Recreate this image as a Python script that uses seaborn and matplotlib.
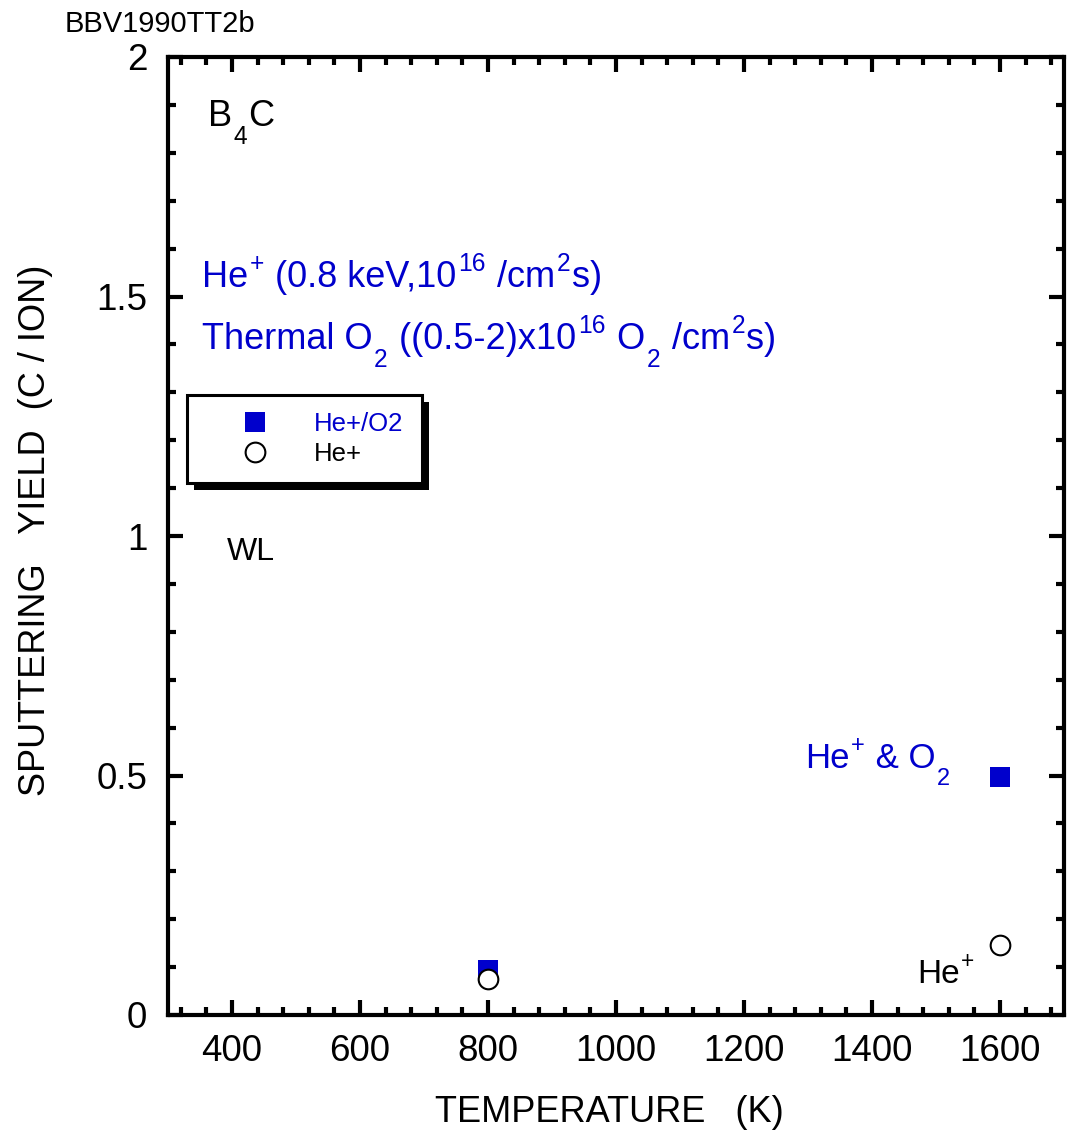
import matplotlib
matplotlib.use("Agg")
import matplotlib.pyplot as plt
from matplotlib import transforms
from matplotlib.lines import Line2D
from matplotlib.patches import Rectangle
from matplotlib.ticker import MultipleLocator, FuncFormatter
import pandas as pd
import seaborn as sns

# Sputtering yield of B4C vs. temperature
temperature_mixed = [800, 1600]      # He+ with thermal O2
yield_mixed = [0.095, 0.497]
temperature_ion = [800, 1600]        # He+ only
yield_ion = [0.075, 0.146]
series_labels = ["He+/O2", "He+"]

BLUE = "#0000cc"

sns.set_style("ticks")
plt.rcParams["font.family"] = ["Liberation Sans", "DejaVu Sans"]
plt.rcParams.update({
    "text.color": "black",
    "axes.labelcolor": "black",
    "xtick.color": "black",
    "ytick.color": "black",
    "axes.edgecolor": "black",
})

W, H = 1071, 1133
DPI = 100
fig = plt.figure(figsize=(W / DPI, H / DPI), dpi=DPI)
ax = fig.add_axes([168 / W, 118 / H, 896 / W, 958 / H])

df_mixed = pd.DataFrame({"T": temperature_mixed, "Y": yield_mixed})
df_ion = pd.DataFrame({"T": temperature_ion, "Y": yield_ion})

sns.scatterplot(data=df_mixed, x="T", y="Y", marker="s", s=190,
                color=BLUE, edgecolor="none", linewidth=0, ax=ax, zorder=3)
sns.scatterplot(data=df_ion, x="T", y="Y", marker="o", s=200,
                color="white", edgecolor="black", linewidth=1.5, ax=ax, zorder=4)

ax.set_xlim(300, 1700)
ax.set_ylim(0, 2)
ax.xaxis.set_major_locator(MultipleLocator(200))
ax.xaxis.set_minor_locator(MultipleLocator(40))
ax.yaxis.set_major_locator(MultipleLocator(0.5))
ax.yaxis.set_minor_locator(MultipleLocator(0.1))
ax.yaxis.set_major_formatter(FuncFormatter(lambda v, p: f"{v:g}"))

for sp in ax.spines.values():
    sp.set_linewidth(3)
    sp.set_color("black")
ax.tick_params(which="both", direction="in", top=True, right=True,
               width=3, color="black", labelsize=26.5, labelcolor="black")
ax.tick_params(which="major", length=11)
ax.tick_params(which="minor", length=6)
ax.tick_params(axis="y", pad=15)
ax.tick_params(axis="x", pad=14)

ax.set_xlabel("TEMPERATURE   (K)", fontsize=26)
ax.set_ylabel("SPUTTERING   YIELD  (C / ION)", fontsize=26)
ax.xaxis.set_label_coords(0.493, -0.084)
ax.yaxis.set_label_coords(-0.128, 0.506)

fig.canvas.draw()
renderer = fig.canvas.get_renderer()


def rich_text(x, y, parts, size, color="black", script=0.68):
    """Draw text with sub/superscripts as a row of pieces sharing one baseline."""
    shift = {"": 0.0, "sup": 0.45, "sub": -0.5}
    dx = 0.0
    for s, kind in parts:
        fs = size if kind == "" else size * script
        dy = shift[kind] * size * DPI / 72
        tr = transforms.offset_copy(ax.transData, fig=fig, x=dx, y=dy, units="dots")
        t = ax.text(x, y, s, transform=tr, fontsize=fs, color=color,
                    va="baseline", ha="left")
        dx += t.get_window_extent(renderer).width + 1.5


rich_text(362, 1.856, [("B", ""), ("4", "sub"), ("C", "")], 26)
rich_text(353, 1.52, [("He", ""), ("+", "sup"), (" (0.8 keV,10", ""), ("16", "sup"),
                      (" /cm", ""), ("2", "sup"), ("s)", "")], 26, BLUE)
rich_text(353, 1.39, [("Thermal O", ""), ("2", "sub"), (" ((0.5-2)x10", ""),
                      ("16", "sup"), (" O", ""), ("2", "sub"), (" /cm", ""),
                      ("2", "sup"), ("s)", "")], 26, BLUE)
ax.text(392, 0.95, "WL", fontsize=23, va="baseline")
rich_text(1295, 0.516, [("He", ""), ("+", "sup"), (" & O", ""), ("2", "sub")], 25, BLUE)
rich_text(1470, 0.067, [("He", ""), ("+", "sup")], 24)

fig.text(65 / W, 1 - 32 / H, "BBV1990TT2b", fontsize=21, va="baseline", ha="left")

# legend
handles = [
    Line2D([], [], marker="s", linestyle="none", color=BLUE, markersize=13.7,
           markeredgewidth=0),
    Line2D([], [], marker="o", linestyle="none", markerfacecolor="white",
           markeredgecolor="black", markeredgewidth=1.5, markersize=14.2),
]
leg = ax.legend(handles, series_labels, loc="upper left",
                bbox_to_anchor=(0.0212, 0.5472, 0.2623, 0.1), mode="expand",
                borderaxespad=0, fontsize=18.5, frameon=True, fancybox=False,
                framealpha=1, edgecolor="black", handlelength=4.0,
                handletextpad=0.3, borderpad=0.65, labelspacing=0.25,
                labelcolor=[BLUE, "black"])
leg.get_frame().set_linewidth(2.2)
leg.set_zorder(6)

fig.canvas.draw()
bb = leg.get_frame().get_window_extent(fig.canvas.get_renderer())
inv = ax.transAxes.inverted()
(x0, y0) = inv.transform((bb.x0 + 7, bb.y0 - 7))
(x1, y1) = inv.transform((bb.x1 + 7, bb.y1 - 7))
ax.add_patch(Rectangle((x0, y0), x1 - x0, y1 - y0, transform=ax.transAxes,
                       facecolor="black", edgecolor="none", zorder=5,
                       clip_on=False))

fig.savefig("out.png", dpi=DPI)
